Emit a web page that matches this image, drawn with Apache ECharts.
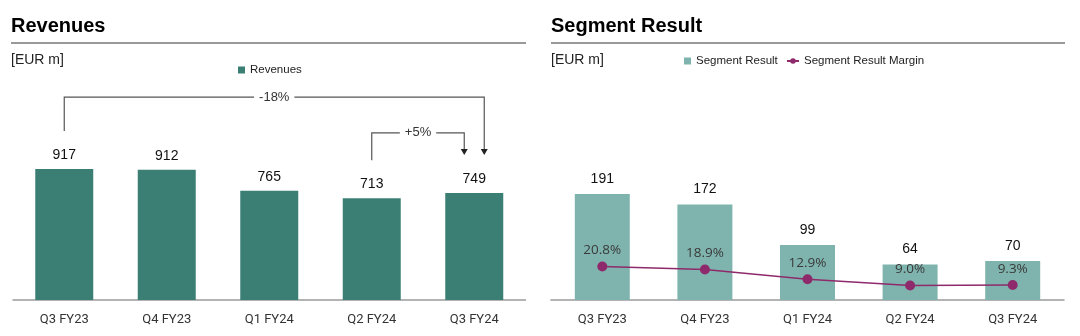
<!DOCTYPE html>
<html><head><meta charset="utf-8">
<script src="https://cdn.jsdelivr.net/npm/echarts@6/dist/echarts.min.js"></script>
<style>html,body{margin:0;padding:0;background:#fff}#c{width:1080px;height:336px}</style>
</head><body><div id="c"></div>
<script>
const categories = ['Q3 FY23', 'Q4 FY23', 'Q1 FY24', 'Q2 FY24', 'Q3 FY24'];
const revenues = [917, 912, 765, 713, 749];
const segmentResult = [191, 172, 99, 64, 70];
const segmentMargin = [20.8, 18.9, 12.9, 9.0, 9.3];
const revenueChangeFrom = ['Q3 FY23', 'Q2 FY24'];
const revenueChangeTo = ['Q3 FY24', 'Q3 FY24'];
const revenueChangeLabel = ['-18%', '+5%'];
const revenueChangeLevel = [1420, 1170];
const revenueChangeSide = [1, -1];

const SANS = '"Liberation Sans", Arial, sans-serif';
const chart = echarts.init(document.getElementById('c'), null, {renderer: 'canvas'});

function xAxisCfg(i) {
  return {
    type: 'category', gridIndex: i, data: categories,
    axisLine: {lineStyle: {color: '#9a9a9a', width: 1.5}},
    axisTick: {show: false},
    axisLabel: {color: '#333', fontFamily: 'Roboto', fontSize: 13, margin: 13}
  };
}
function yAxisCfg(i, max) {
  return {type: 'value', gridIndex: i, min: 0, max: max, show: false, splitLine: {show: false}};
}
const legendText = {fontFamily: SANS, fontSize: 11.5, color: '#222'};

const option = {
  animation: false,
  grid: [
    {left: 13, top: 100, width: 512.5, height: 200},
    {left: 551, top: 100, width: 513, height: 200}
  ],
  xAxis: [xAxisCfg(0), xAxisCfg(1)],
  yAxis: [yAxisCfg(0, 1400), yAxisCfg(1, 360), yAxisCfg(1, 124)],
  legend: [
    {data: ['Revenues'], left: 238, top: 64, padding: 0, itemWidth: 7, itemHeight: 7,
     icon: 'rect', textStyle: legendText},
    {data: ['Segment Result'], left: 684, top: 55, padding: 0, itemWidth: 7, itemHeight: 7,
     icon: 'rect', textStyle: legendText},
    {data: ['Segment Result Margin'], left: 786, top: 55, padding: 0, itemWidth: 12, itemHeight: 7,
     textStyle: legendText}
  ],
  series: [
    {name: 'Revenues', type: 'bar', xAxisIndex: 0, yAxisIndex: 0, data: revenues,
     barWidth: 58, itemStyle: {color: '#3b7f74'},
     label: {show: true, position: 'top', distance: 7, fontFamily: SANS, fontSize: 14, color: '#111'}},
    {name: 'Segment Result', type: 'bar', xAxisIndex: 1, yAxisIndex: 1, data: segmentResult,
     barWidth: 55, itemStyle: {color: '#7fb4ae'},
     label: {show: true, position: 'top', distance: 8, fontFamily: SANS, fontSize: 14, color: '#111'}},
    {name: 'Segment Result Margin', type: 'line', xAxisIndex: 1, yAxisIndex: 2, data: segmentMargin,
     z: 5, symbol: 'circle', symbolSize: 10,
     itemStyle: {color: '#8e2a6b'}, lineStyle: {color: '#8e2a6b', width: 1.5},
     label: {show: true, position: 'top', distance: 4, fontFamily: '"Open Sans"', fontSize: 13.5,
             color: '#3a3a3a', formatter: p => p.value.toFixed(1) + '%'}}
  ],
  graphic: [
    {type: 'text', left: 11, top: 16, style: {text: 'Revenues', font: 'bold 20px ' + SANS, fill: '#000'}},
    {type: 'text', left: 551, top: 16, style: {text: 'Segment Result', font: 'bold 20px ' + SANS, fill: '#000'}},
    {type: 'line', shape: {x1: 11, y1: 43, x2: 526, y2: 43}, style: {stroke: '#777', lineWidth: 1.5}},
    {type: 'line', shape: {x1: 551, y1: 43, x2: 1065, y2: 43}, style: {stroke: '#777', lineWidth: 1.5}},
    {type: 'text', left: 11, top: 53, style: {text: '[EUR m]', font: '14px ' + SANS, fill: '#222'}},
    {type: 'text', left: 551, top: 53, style: {text: '[EUR m]', font: '14px ' + SANS, fill: '#222'}}
  ]
};
chart.setOption(option);

// change brackets above revenue bars, positioned via the chart's own scales
const ann = [];
const GAP = 38, LINE = '#555';
for (let i = 0; i < revenueChangeLabel.length; i++) {
  const fi = categories.indexOf(revenueChangeFrom[i]);
  const ti = categories.indexOf(revenueChangeTo[i]);
  const pFrom = chart.convertToPixel({seriesIndex: 0}, [fi, revenues[fi]]);
  const pTo = chart.convertToPixel({seriesIndex: 0}, [ti, revenues[ti]]);
  const pLevel = chart.convertToPixel({seriesIndex: 0}, [fi, revenueChangeLevel[i]]);
  const x1 = pFrom[0], yStart = pFrom[1] - GAP;
  const x2 = pTo[0] + revenueChangeSide[i] * 10, yTip = pTo[1] - GAP;
  const yL = pLevel[1];
  ann.push({type: 'polyline', shape: {points: [[x1, yStart], [x1, yL], [x2, yL], [x2, yTip - 5]]},
            style: {stroke: LINE, lineWidth: 1.2, fill: null}, z: 10});
  ann.push({type: 'polygon', shape: {points: [[x2 - 3.5, yTip - 6], [x2 + 3.5, yTip - 6], [x2, yTip]]},
            style: {fill: '#222'}, z: 10});
  ann.push({type: 'text', x: (x1 + x2) / 2, y: yL, z: 11,
            style: {text: revenueChangeLabel[i], font: '13px ' + SANS, fill: '#333',
                    align: 'center', verticalAlign: 'middle',
                    backgroundColor: '#fff', padding: [1, 5]}});
}
chart.setOption({graphic: option.graphic.concat(ann)});
</script></body></html>
